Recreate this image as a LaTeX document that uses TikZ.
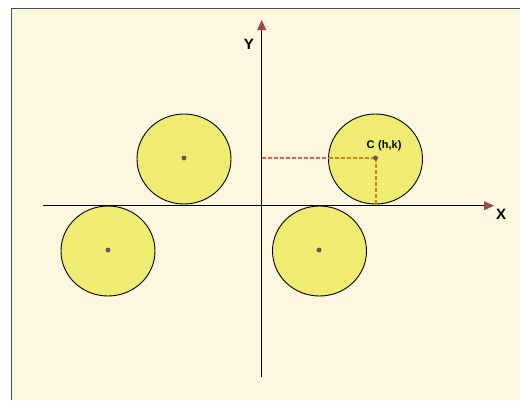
\documentclass[tikz,border=0pt]{standalone}
\usepackage{fontspec}
\setmainfont{Liberation Sans}
\usetikzlibrary{arrows.meta,shapes.geometric}
\definecolor{bgcream}{HTML}{FBF8DF}
\definecolor{ballfill}{HTML}{F0EC72}
\definecolor{dotcol}{HTML}{7A5060}
\definecolor{tipcol}{HTML}{A04848}
\definecolor{dashred}{HTML}{D06050}
\definecolor{dashorange}{HTML}{C88420}
\tikzset{
  ball/.style={ellipse, draw=black, line width=0.9pt, fill=ballfill, minimum width=94pt, minimum height=90pt, inner sep=0pt},
  centerdot/.style={circle, fill=dotcol, minimum size=5pt, inner sep=0pt},
  axis/.style={line width=0.8pt, draw=black, -{Triangle[length=10pt,width=9pt,fill=tipcol,color=tipcol]}},
  axislabel/.style={font=\bfseries\fontsize{15}{15}\selectfont, inner sep=0pt},
}
\begin{document}
\begin{tikzpicture}[x=1pt,y=-1pt]
\useasboundingbox (0,0) rectangle (520,400);
\fill[white] (0,0) rectangle (520,400);
\fill[bgcream] (11,8) rectangle (520,400);
\draw[line width=0.8pt, black!70] (11,400) -- (11,8) -- (520,8);
% balls
\node[ball] (b1) at (184,159) {};
\node[ball] (b2) at (375.5,159) {};
\node[ball] (b3) at (108,251) {};
\node[ball] (b4) at (319.5,251) {};
% axes
\coordinate (xs) at (43,205.7);
\coordinate (xe) at (494,205.7);
\coordinate (ys) at (261.7,377);
\coordinate (ye) at (261.7,20);
\draw[axis] (xs) -- (xe);
\draw[axis] (ys) -- (ye);
\node[axislabel] (xl) at (501,214) {X};
\node[axislabel] (yl) at (249,44) {Y};
% dashed projections
\coordinate (cc) at (375.5,158);
\coordinate (cy) at (261.7,158);
\coordinate (cx) at (375.5,205);
\coordinate (ce) at (328.5,158);
\draw[dashred, line width=1.1pt, dash pattern=on 4pt off 2pt] (cy) -- (ce);
\draw[dashorange, line width=1.3pt, dash pattern=on 4pt off 2pt] (ce) -- (cc);
\draw[dashorange, line width=2pt, dash pattern=on 4pt off 2pt] (cc) -- (cx);
% centre dots
\node[centerdot] (d1) at (184,158) {};
\node[centerdot] (d2) at (cc) {};
\node[centerdot] (d3) at (108,250) {};
\node[centerdot] (d4) at (319,250) {};
\node[font=\bfseries\fontsize{11}{11}\selectfont, inner sep=0pt] (cl) at (384,146) {C\,\,(h,k)};
\end{tikzpicture}
\end{document}
